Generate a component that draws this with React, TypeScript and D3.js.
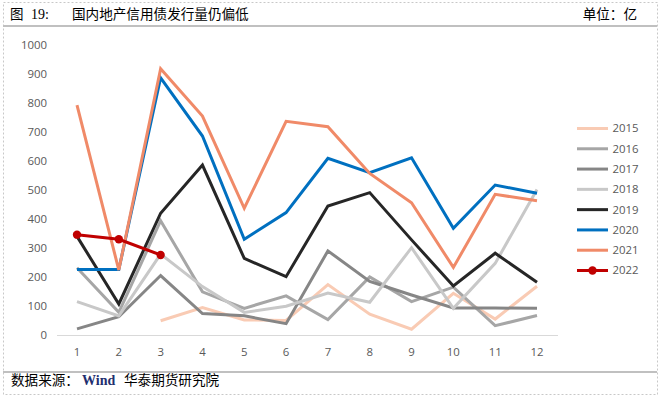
import * as d3 from "d3";

const months = [1, 2, 3, 4, 5, 6, 7, 8, 9, 10, 11, 12];
const yTicks = [0, 100, 200, 300, 400, 500, 600, 700, 800, 900, 1000];

// 单位：亿, null = no data
const s2015 = [null, null, 49, 95, 52, 50, 174, 72, 20, 144, 55, 168];
const s2016 = [232, 78, 394, 149, 92, 135, 53, 200, 115, 165, 32, 67];
const s2017 = [21, 63, 205, 74, 66, 39, 290, 185, 138, 93, 93, 92];
const s2018 = [115, 66, 279, 167, 78, 99, 145, 113, 301, 92, 247, 502];
const s2019 = [340, 107, 420, 586, 264, 201, 445, 491, 328, 169, 282, 182];
const s2020 = [226, 226, 887, 686, 330, 422, 609, 560, 611, 368, 517, 489];
const s2021 = [793, 224, 918, 755, 437, 737, 718, 557, 456, 233, 485, 463];
const s2022 = [346, 330, 276];

const series = [
  { name: "2015", values: s2015, color: "#f9cbb4" },
  { name: "2016", values: s2016, color: "#a6a6a6" },
  { name: "2017", values: s2017, color: "#868686" },
  { name: "2018", values: s2018, color: "#c8c8c8" },
  { name: "2019", values: s2019, color: "#262626" },
  { name: "2020", values: s2020, color: "#0070c0" },
  { name: "2021", values: s2021, color: "#f08a68" },
  { name: "2022", values: s2022, color: "#c00000", marker: true },
];

const W = 661;
const H = 398;
const numFont = "'Open Sans', 'Liberation Sans', sans-serif";
const cjkFont = "'Noto Sans CJK SC', sans-serif";

export default function App() {
  const x = d3.scaleLinear().domain([1, 12]).range([77, 537]);
  const y = d3.scaleLinear().domain([0, 1000]).range([335, 45]);

  const line = d3
    .line<number | null>()
    .defined((d) => d != null)
    .x((_, i) => x(months[i]))
    .y((d) => y(d as number));

  const legendY = d3.scalePoint<string>().domain(series.map((s) => s.name)).range([128.5, 270.5]);

  return (
    <svg
      width={W}
      height={H}
      style={{ position: "absolute", left: 0, top: 0, background: "#fff" }}
    >
      <rect x={3.5} y={2.5} width={654} height={392} fill="none" stroke="#c8c8c8" strokeDasharray="2,2" />

      {/* header */}
      <text x={10} y={19} fontFamily={cjkFont} fontSize={13.5} fill="#000">图</text>
      <text x={31} y={19} fontFamily="'Liberation Serif', serif" fontSize={14} fill="#000">19:</text>
      <text x={72} y={19} fontFamily={cjkFont} fontSize={13.6} fill="#000">国内地产信用债发行量仍偏低</text>
      <text x={637} y={19} textAnchor="end" fontFamily={cjkFont} fontSize={13.6} fill="#000">单位：亿</text>
      <rect x={3} y={25} width={654} height={2} fill="#c0c0c0" />

      {/* axes */}
      <line x1={57} x2={558} y1={y(0) + 0.5} y2={y(0) + 0.5} stroke="#d9d9d9" strokeWidth={1} />
      {yTicks.map((t) => (
        <text key={t} x={47} y={y(t)} dy="0.35em" textAnchor="end" fontFamily={numFont} fontSize={11.4} fill="#595959">
          {t}
        </text>
      ))}
      {months.map((m) => (
        <text key={m} x={x(m)} y={352} dy="0.35em" textAnchor="middle" fontFamily={numFont} fontSize={11.4} fill="#595959">
          {m}
        </text>
      ))}

      {/* lines */}
      {series.map((s) => (
        <g key={s.name}>
          <path d={line(s.values) || ""} fill="none" stroke={s.color} strokeWidth={3} strokeLinejoin="miter" />
          {s.marker &&
            s.values.map((v, i) =>
              v == null ? null : <circle key={i} cx={x(months[i])} cy={y(v)} r={4.2} fill={s.color} />
            )}
        </g>
      ))}

      {/* legend */}
      {series.map((s) => {
        const ly = legendY(s.name) as number;
        return (
          <g key={s.name}>
            <line x1={577} x2={608} y1={ly} y2={ly} stroke={s.color} strokeWidth={3} />
            {s.marker && <circle cx={592.5} cy={ly} r={4.2} fill={s.color} />}
            <text x={612.5} y={ly} dy="0.35em" fontFamily={numFont} fontSize={11.4} fill="#595959">
              {s.name}
            </text>
          </g>
        );
      })}

      {/* footer */}
      <rect x={3} y={371} width={654} height={2} fill="#c0c0c0" />
      <text x={11} y={385} fontFamily={cjkFont} fontSize={13.6} fill="#000">数据来源：</text>
      <text x={82} y={385} fontFamily="'Liberation Serif', serif" fontSize={14} fontWeight="bold" fill="#1f2f6f">Wind</text>
      <text x={124} y={385} fontFamily={cjkFont} fontSize={13.6} fill="#000">华泰期货研究院</text>
    </svg>
  );
}
